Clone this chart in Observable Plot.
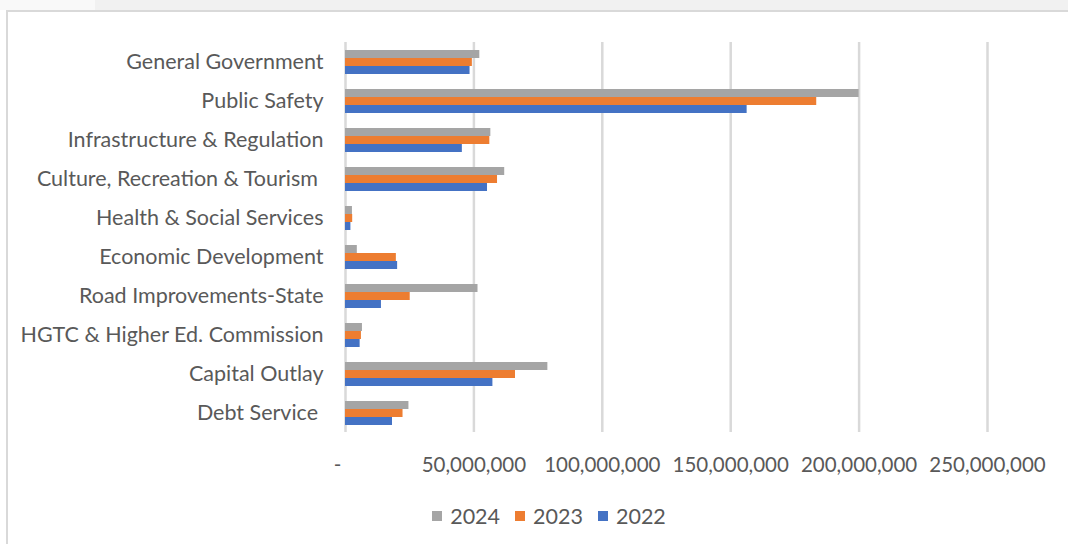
<!DOCTYPE html>
<html>
<head>
<meta charset="utf-8">
<script src="https://cdn.jsdelivr.net/npm/d3@7"></script>
<script src="https://cdn.jsdelivr.net/npm/@observablehq/plot@0.6"></script>
<style>
  html, body { margin: 0; padding: 0; background: #ffffff; }
  #wrap { position: relative; width: 1068px; height: 544px; overflow: hidden; background: #ffffff; font-family: Lato, "Noto Sans", sans-serif; }
  #topband { position: absolute; left: 95px; top: 0; right: 0; height: 10px; background: #f1f1f1; }
  #topband2 { position: absolute; left: 0; top: 0; width: 95px; height: 10px; background: #f9f9f9; }
  #topline { position: absolute; left: 6px; top: 10px; right: 0; height: 2px; background: #d9d9d9; }
  #leftline { position: absolute; left: 6px; top: 10px; bottom: 0; width: 2px; background: #d9d9d9; }
  #chart { position: absolute; left: 0; top: 0; }
  #chart svg text { white-space: pre; }
  #chart svg g[aria-label="fy-axis tick label"] { font-size: 21.5px; }
  #chart svg g[aria-label="x-axis tick label"] { font-size: 20.5px; }
  #legend { position: absolute; top: 503px; left: 0; width: 1068px; display: flex; justify-content: center; gap: 15px; font-size: 21.5px; color: #595959; padding-left: 30px; box-sizing: border-box; }
  #legend .item { display: flex; align-items: center; gap: 8px; }
  #legend .sw { width: 10px; height: 10px; display: inline-block; }
</style>
</head>
<body>
<div id="wrap">
  <div id="topband2"></div>
  <div id="topband"></div>
  <div id="topline"></div>
  <div id="leftline"></div>
  <div id="chart"></div>
  <div id="legend"></div>
</div>
<script>
const categories = [
  "General Government",
  "Public Safety",
  "Infrastructure & Regulation",
  "Culture, Recreation & Tourism ",
  "Health & Social Services",
  "Economic Development",
  "Road Improvements-State",
  "HGTC & Higher Ed. Commission",
  "Capital Outlay",
  "Debt Service "
];
const years = ["2024", "2023", "2022"];
const values2024 = [52.3e6, 200.0e6, 56.6e6, 62.0e6, 2.7e6, 4.6e6, 51.6e6, 6.6e6, 78.8e6, 24.7e6];
const values2023 = [49.4e6, 183.5e6, 56.2e6, 59.2e6, 2.8e6, 19.8e6, 25.2e6, 6.2e6, 66.2e6, 22.4e6];
const values2022 = [48.5e6, 156.4e6, 45.5e6, 55.3e6, 2.1e6, 20.3e6, 14.0e6, 5.7e6, 57.4e6, 18.3e6];
const yearColors = ["#A5A5A5", "#ED7D31", "#4472C4"];
const xTicks = [0, 50e6, 100e6, 150e6, 200e6, 250e6];
const xTickLabels = ["-   ", "50,000,000", "100,000,000", "150,000,000", "200,000,000", "250,000,000"];

const series = [values2024, values2023, values2022];
const data = categories.flatMap((c, i) =>
  years.map((y, j) => ({category: c, year: y, value: series[j][i]}))
);

const chart = Plot.plot({
  width: 1068,
  height: 490,
  marginLeft: 345,
  marginRight: 81,
  marginTop: 39,
  marginBottom: 55,
  style: {background: "transparent", fontFamily: "Lato, 'Noto Sans', sans-serif", fontSize: "20px", color: "#595959"},
  x: {domain: [0, 250e6], ticks: xTicks, tickFormat: d => xTickLabels[xTicks.indexOf(d)], tickSize: 0, tickPadding: 25, label: null},
  fy: {domain: categories, padding: 0, axis: "left", label: null, tickSize: 0, tickPadding: 22},
  y: {domain: years, axis: null, paddingInner: 0, paddingOuter: 0.9},
  color: {domain: years, range: yearColors},
  marks: [
    Plot.gridX({ticks: xTicks, stroke: "#d9d9d9", strokeWidth: 2.5, strokeOpacity: 1}),
    Plot.barX(data, {x: "value", y: "year", fy: "category", fill: "year"})
  ]
});
document.getElementById("chart").appendChild(chart);

const legend = document.getElementById("legend");
years.forEach((y, j) => {
  const item = document.createElement("div");
  item.className = "item";
  const sw = document.createElement("span");
  sw.className = "sw";
  sw.style.background = yearColors[j];
  const t = document.createElement("span");
  t.textContent = y;
  item.appendChild(sw);
  item.appendChild(t);
  legend.appendChild(item);
});
</script>
</body>
</html>
